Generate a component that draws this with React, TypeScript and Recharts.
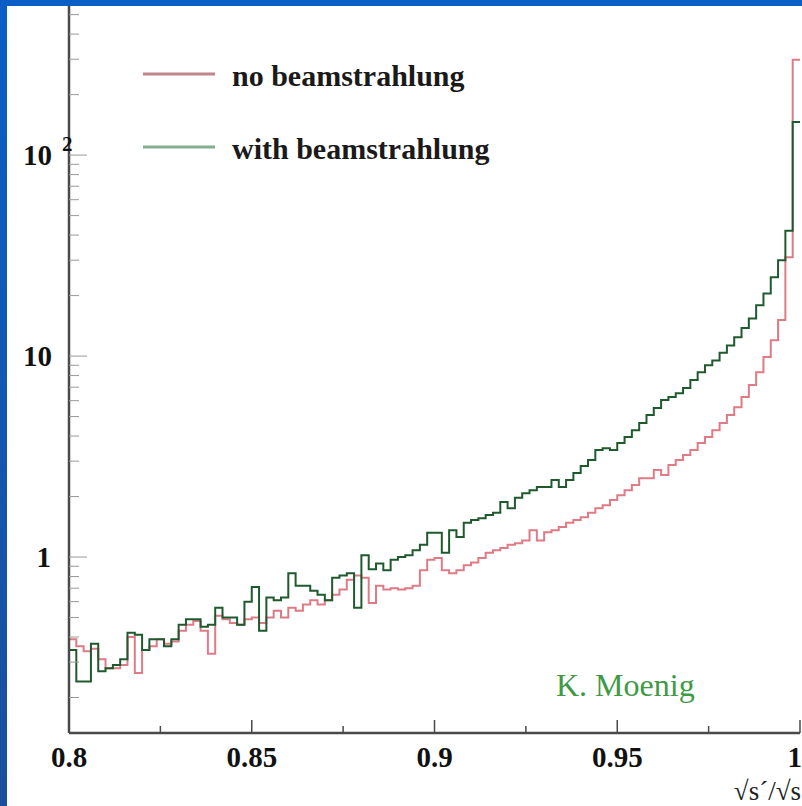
import React from 'react';
import { LineChart, Line, XAxis, YAxis } from 'recharts';

// histogram contents, 100 bins of width 0.002 from 0.8 to 1.0
const noBeam = [
  0.39, 0.36, 0.34, 0.35, 0.31, 0.28, 0.28, 0.29, 0.4, 0.265,
  0.345, 0.36, 0.39, 0.37, 0.38, 0.43, 0.46, 0.48, 0.43, 0.33,
  0.51, 0.49, 0.47, 0.46, 0.49, 0.5, 0.47, 0.5, 0.54, 0.5,
  0.56, 0.54, 0.58, 0.61, 0.58, 0.61, 0.65, 0.69, 0.77, 0.81,
  0.79, 0.59, 0.72, 0.69, 0.7, 0.69, 0.7, 0.72, 0.86, 0.97,
  0.99, 0.86, 0.83, 0.86, 0.91, 0.94, 0.99, 1.05, 1.08, 1.11,
  1.15, 1.17, 1.21, 1.36, 1.21, 1.33, 1.36, 1.41, 1.48, 1.53,
  1.58, 1.66, 1.75, 1.81, 1.92, 2.03, 2.15, 2.28, 2.47, 2.47,
  2.71, 2.56, 2.87, 3.04, 3.22, 3.41, 3.69, 3.96, 4.28, 4.64,
  5.09, 5.57, 6.25, 7.17, 8.3, 9.9, 12.0, 15.1, 31, 298,
];

const withBeam = [
  0.345, 0.24, 0.24, 0.37, 0.27, 0.28, 0.29, 0.31, 0.42, 0.41,
  0.345, 0.39, 0.39, 0.36, 0.39, 0.46, 0.49, 0.49, 0.45, 0.46,
  0.56, 0.5, 0.5, 0.46, 0.6, 0.71, 0.43, 0.63, 0.61, 0.63,
  0.83, 0.72, 0.72, 0.68, 0.65, 0.61, 0.79, 0.81, 0.83, 0.56,
  1.02, 0.87, 0.93, 0.86, 0.97, 1.0, 1.02, 1.08, 1.15, 1.32,
  1.32, 1.05, 1.36, 1.26, 1.48, 1.53, 1.56, 1.62, 1.66, 1.88,
  1.75, 1.97, 2.08, 2.15, 2.23, 2.23, 2.42, 2.23, 2.42, 2.62,
  2.84, 3.04, 3.41, 3.48, 3.41, 3.69, 3.96, 4.28, 4.64, 5.09,
  5.52, 6.05, 6.25, 6.54, 6.93, 7.6, 8.3, 9.0, 9.5, 10.4,
  11.3, 12.4, 13.8, 15.4, 17.9, 20.5, 24.7, 30, 42, 146,
];

const xMajor = [0.8, 0.85, 0.9, 0.95, 1];
const xMinor = [0.825, 0.875, 0.925, 0.975];
const yMajor = [1, 10, 100];
const yMinor = [
  0.2, 0.3, 0.4, 0.5, 0.6, 0.7, 0.8, 0.9,
  2, 3, 4, 5, 6, 7, 8, 9,
  20, 30, 40, 50, 60, 70, 80, 90,
  200, 300, 400, 500,
];

const X_MIN = 0.8;
const X_MAX = 1.0;
const BIN = 0.002;
const Y_DOMAIN: [number, number] = [0.1332, 552];

const LEFT = 69;
const RIGHT = 800;
const TOP = 6;
const BOTTOM = 733;

const SERIF = "'Liberation Serif', 'Times New Roman', 'DejaVu Serif', serif";
const RED = '#de7b86';
const GREEN = '#1f5a2e';
const AXIS = '#4a4a4a';

const bold = { fontFamily: SERIF, fontWeight: 700 } as const;
const plain = { fontFamily: SERIF, fontWeight: 400 } as const;

const data = noBeam.map((v, i) => ({
  x: +(X_MIN + i * BIN).toFixed(3),
  noBeam: v,
  withBeam: withBeam[i],
}));
// closing edge so the last step reaches x = 1
data.push({ x: X_MAX, noBeam: noBeam[noBeam.length - 1], withBeam: withBeam[withBeam.length - 1] });

const BottomTick = (props: any) => {
  const { x, payload } = props;
  const major = xMajor.includes(payload.value);
  const last = payload.value === X_MAX;
  return (
    <g>
      <line x1={x} x2={x} y1={BOTTOM} y2={BOTTOM - (major ? 13 : 7)} stroke={AXIS} strokeWidth={1.5} />
      {major && (
        <text x={last ? 802 : x} y={BOTTOM + 34} textAnchor={last ? 'end' : 'middle'} style={bold} fontSize={29} fill="#111">
          {String(payload.value)}
        </text>
      )}
    </g>
  );
};

const TopTick = (props: any) => {
  const { x, payload } = props;
  const major = xMajor.includes(payload.value);
  return <line x1={x} x2={x} y1={TOP} y2={TOP + (major ? 13 : 7)} stroke={AXIS} strokeWidth={1.5} />;
};

const LeftTick = (props: any) => {
  const { y, payload } = props;
  const v = payload.value;
  const major = yMajor.includes(v);
  return (
    <g>
      <line x1={LEFT} x2={LEFT + (major ? 18 : 10)} y1={y} y2={y} stroke="#999" strokeWidth={1} />
      {v === 1 && (
        <text x={51} y={y + 10} textAnchor="end" style={bold} fontSize={29} fill="#111">1</text>
      )}
      {v === 10 && (
        <text x={52} y={y + 10} textAnchor="end" style={bold} fontSize={29} fill="#111">10</text>
      )}
      {v === 100 && (
        <g>
          <text x={52} y={y + 10} textAnchor="end" style={bold} fontSize={29} fill="#111">10</text>
          <text x={62} y={y - 4} textAnchor="start" style={bold} fontSize={21} fill="#111">2</text>
        </g>
      )}
    </g>
  );
};

const RightTick = (props: any) => {
  const { y, payload } = props;
  const major = yMajor.includes(payload.value);
  return <line x1={RIGHT} x2={RIGHT - (major ? 18 : 10)} y1={y} y2={y} stroke="#999" strokeWidth={1} />;
};

export default function App() {
  const xTicks = [...xMajor, ...xMinor].sort((a, b) => a - b);
  const yTicks = [...yMajor, ...yMinor].sort((a, b) => a - b);
  return (
    <div style={{ position: 'absolute', left: 0, top: 0, width: 802, height: 806, background: '#ffffff', overflow: 'hidden', fontFamily: SERIF }}>
      <LineChart width={802} height={806} data={data} margin={{ top: TOP, right: 2, left: 9, bottom: 23 }}>
        <XAxis
          xAxisId="b"
          dataKey="x"
          type="number"
          domain={[X_MIN, X_MAX]}
          ticks={xTicks}
          interval={0}
          height={50}
          tickLine={false}
          axisLine={{ stroke: AXIS, strokeWidth: 2.5 }}
          tick={<BottomTick />}
        />
        <XAxis
          xAxisId="t"
          orientation="top"
          dataKey="x"
          type="number"
          domain={[X_MIN, X_MAX]}
          ticks={xTicks}
          interval={0}
          height={0}
          tickLine={false}
          axisLine={false}
          tick={<TopTick />}
        />
        <YAxis
          yAxisId="l"
          scale="log"
          type="number"
          domain={Y_DOMAIN}
          allowDataOverflow
          ticks={yTicks}
          interval={0}
          width={60}
          tickLine={false}
          axisLine={{ stroke: AXIS, strokeWidth: 2.5 }}
          tick={<LeftTick />}
        />
        <YAxis
          yAxisId="r"
          orientation="right"
          scale="log"
          type="number"
          domain={Y_DOMAIN}
          allowDataOverflow
          ticks={yTicks}
          interval={0}
          width={0}
          tickLine={false}
          axisLine={{ stroke: '#8a8a8a', strokeWidth: 3 }}
          tick={<RightTick />}
        />
        <Line
          xAxisId="b"
          yAxisId="l"
          dataKey="noBeam"
          type="stepAfter"
          stroke={RED}
          strokeWidth={2}
          dot={false}
          isAnimationActive={false}
        />
        <Line
          xAxisId="b"
          yAxisId="l"
          dataKey="withBeam"
          type="stepAfter"
          stroke={GREEN}
          strokeWidth={2}
          dot={false}
          isAnimationActive={false}
        />
      </LineChart>

      <svg width={802} height={806} style={{ position: 'absolute', left: 0, top: 0, pointerEvents: 'none' }}>
        <line x1={143} x2={215} y1={74} y2={74} stroke="#c0868c" strokeWidth={3} />
        <text x={232} y={86} style={bold} fontSize={30} fill="#1a1a1a">no beamstrahlung</text>
        <line x1={143} x2={215} y1={147} y2={147} stroke="#86ad92" strokeWidth={3} />
        <text x={232} y={159} style={bold} fontSize={30} fill="#1a1a1a">with beamstrahlung</text>
        <text x={556} y={696} style={plain} fontSize={32} fill="#3f9a45">K. Moenig</text>
        <text x={801} y={800} textAnchor="end" style={plain} fontSize={27} fill="#222">√s´/√s</text>
      </svg>

      <div style={{ position: 'absolute', left: 0, top: 0, width: 802, height: 6, background: '#0a5ec6' }} />
      <div style={{ position: 'absolute', left: 0, top: 0, width: 7, height: 806, background: 'linear-gradient(#0a5ec6, #1b4f9e)' }} />
    </div>
  );
}
